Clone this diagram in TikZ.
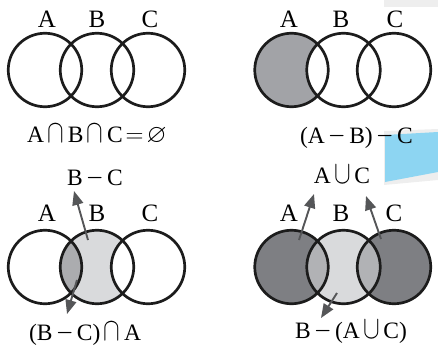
\documentclass[tikz,border=0pt]{standalone}
\usepackage{fontspec}
\setmainfont{Liberation Serif}
\usepackage{amssymb}
\usepackage{graphicx}
\usetikzlibrary{arrows.meta}
\definecolor{ink}{HTML}{1C1C1C}
\definecolor{arrowgray}{HTML}{555658}
\definecolor{shadeA}{HTML}{A2A3A7}
\definecolor{shadeLight}{HTML}{D9DADC}
\definecolor{shadeMid}{HTML}{ABACAF}
\definecolor{shadeMid2}{HTML}{B1B2B5}
\definecolor{shadeDark}{HTML}{7E7F83}
\definecolor{stickerblue}{HTML}{8DD5F2}
\definecolor{paperedge}{HTML}{EEEEEE}
\newcommand\mycap{\kern3.5pt\scalebox{1}[1.3]{$\cap$}\kern3.5pt}
\newcommand\mycup{\kern3.5pt\scalebox{1}[1.3]{$\cup$}\kern3.5pt}
\newcommand\mymin{\kern3.5pt\scalebox{0.9}[1.2]{$-$}\kern3.5pt}
\begin{document}
\begin{tikzpicture}[x=1pt,y=-1pt,
  setc/.style={circle,draw=ink,line width=2.7pt,minimum size=73.5pt,inner sep=0pt,outer sep=0pt},
  lbl/.style={font=\fontsize{25}{25}\selectfont,inner sep=0pt,anchor=base},
  frm/.style={font=\fontsize{23.5}{23.5}\selectfont,inner sep=0pt,anchor=base},
  ptr/.style={draw=arrowgray,line width=1.9pt,-{Triangle[length=14pt,width=11pt]}}]
\useasboundingbox (0,0) rectangle (438,345);
% paper artefacts
\fill[paperedge] (384,0) rectangle (438,7);
\fill[paperedge] (384,131) -- (438,129) -- (438,180) -- (384,185) -- cycle;
\fill[stickerblue] (385,135) -- (438,132) -- (438,172) -- (385,182) -- cycle;

% ---------- top left ----------
\node[setc] (tlA) at (45,70) {};
\node[setc] (tlB) at (97,70) {};
\node[setc] (tlC) at (148,70) {};
\node[lbl] (tlLa) at (47,28) {A};
\node[lbl] (tlLb) at (97,28) {B};
\node[lbl] (tlLc) at (150,28) {C};
\node[frm] (tlF) at (97,142) {A\mycap B\mycap C\kern3pt$=$\kern3pt\scalebox{1.1}{$\varnothing$}};

% ---------- top right ----------
\begin{scope}
  \clip (291.5,70) circle[radius=37pt];
  \fill[shadeA] (291.5,70) circle[radius=37pt];
  \fill[white] (343.5,70) circle[radius=37pt];
\end{scope}
\node[setc] (trA) at (291.5,70) {};
\node[setc] (trB) at (343.5,70) {};
\node[setc] (trC) at (394,70) {};
\node[lbl] (trLa) at (289,28) {A};
\node[lbl] (trLb) at (341,28) {B};
\node[lbl] (trLc) at (395,28) {C};
\node[frm] (trF) at (356.5,143) {(A\mymin B)\mymin C};

% ---------- bottom left ----------
\fill[shadeLight] (97,267) circle[radius=37pt];
\begin{scope}
  \clip (97,267) circle[radius=37pt];
  \fill[shadeMid] (45,267) circle[radius=37pt];
  \fill[white] (148,267) circle[radius=37pt];
\end{scope}
\node[setc] (blA) at (45,267) {};
\node[setc] (blB) at (97,267) {};
\node[setc] (blC) at (148,267) {};
\node[lbl] (blLa) at (47,221) {A};
\node[lbl] (blLb) at (97,221) {B};
\node[lbl] (blLc) at (150,221) {C};
\node[frm] (blT) at (95,185) {B\mymin C};
\node[frm] (blF) at (85,340) {(B\mymin C)\mycap A};
\coordinate (blS1) at (88,240);
\coordinate (blE1) at (74,191);
\coordinate (blS2) at (77,280);
\coordinate (blE2) at (67,314);
\draw[ptr] (blS1) -- (blE1);
\draw[ptr] (blS2) -- (blE2);

% ---------- bottom right ----------
\fill[shadeDark] (291.5,267) circle[radius=37pt];
\fill[shadeDark] (394,267) circle[radius=37pt];
\fill[shadeLight] (343.5,267) circle[radius=37pt];
\begin{scope}
  \clip (343.5,267) circle[radius=37pt];
  \fill[shadeMid2] (291.5,267) circle[radius=37pt];
  \fill[shadeMid2] (394,267) circle[radius=37pt];
\end{scope}
\node[setc] (brA) at (291.5,267) {};
\node[setc] (brB) at (343.5,267) {};
\node[setc] (brC) at (394,267) {};
\node[lbl] (brLa) at (289,221) {A};
\node[lbl] (brLb) at (341,221) {B};
\node[lbl] (brLc) at (394,221) {C};
\node[frm] (brT) at (342,183) {A\mycup C};
\node[frm] (brF) at (351,338) {B\mymin(A\mycup C)};
\coordinate (brS1) at (299,240);
\coordinate (brE1) at (314,194);
\coordinate (brS2) at (381,239);
\coordinate (brE2) at (366,196);
\coordinate (brS3) at (337,293);
\coordinate (brE3) at (321,318);
\draw[ptr] (brS1) -- (brE1);
\draw[ptr] (brS2) -- (brE2);
\draw[ptr] (brS3) -- (brE3);
\end{tikzpicture}
\end{document}
